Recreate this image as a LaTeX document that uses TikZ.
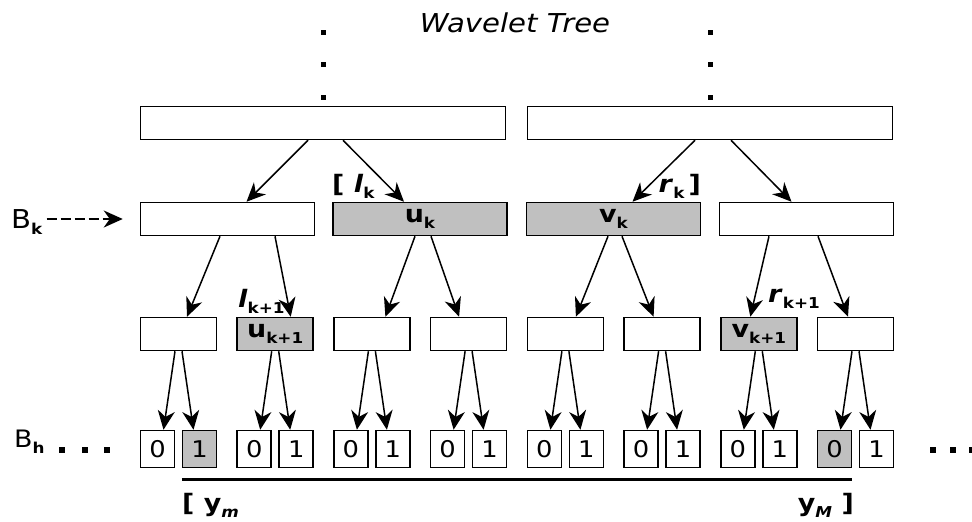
\documentclass[tikz,border=0pt]{standalone}
\usepackage{fontspec}
\setmainfont{DejaVu Sans}[FakeStretch=1.12]
\usetikzlibrary{arrows.meta}
\definecolor{hitgray}{RGB}{192,192,192}
\newcommand{\lsub}[1]{\raisebox{-6pt}{\fontsize{15}{15}\selectfont\bfseries #1}}

\begin{document}
\begin{tikzpicture}[x=1pt, y=-1pt,
  >={Stealth[length=19pt,width=17pt,inset=6pt]},
  box/.style={draw, line width=1.5pt, inner sep=0pt, minimum height=33pt,
    font=\fontsize{24}{24}\selectfont},
  hit/.style={box, fill=hitgray},
  bit/.style={draw, line width=1.5pt, inner sep=0pt, minimum width=34pt,
    minimum height=37pt, font=\fontsize{23}{23}\selectfont},
  lab/.style={inner sep=0pt, font=\fontsize{24}{24}\selectfont\bfseries},
  link/.style={->, line width=1.5pt}]

  \useasboundingbox (0,0) rectangle (972,522);

  % Title and dots above the top level
  \node[anchor=base, inner sep=0pt, font=\fontsize{26}{26}\selectfont\itshape] (title) at (515,32) {Wavelet Tree};
  \fill (320.5,29.5) rectangle (325.5,34.5);
  \fill (320.5,61.5) rectangle (325.5,66.5);
  \fill (320.5,94.5) rectangle (325.5,99.5);
  \fill (707.5,29.5) rectangle (712.5,34.5);
  \fill (707.5,61.5) rectangle (712.5,66.5);
  \fill (707.5,94.5) rectangle (712.5,99.5);

  % Top level
  \node[box, minimum width=365pt] (t1) at (323,123) {};
  \node[box, minimum width=365pt] (t2) at (710,123) {};

  % Level k
  \node[box, minimum width=174pt] (k1) at (227.5,219) {};
  \node[hit, minimum width=174pt] (k2) at (420,219) {\textbf{u}\lsub{k}};
  \node[hit, minimum width=174pt] (k3) at (613.5,219) {\textbf{v}\lsub{k}};
  \node[box, minimum width=174pt] (k4) at (806.5,219) {};

  % Level k+1
  \node[box, minimum width=76pt] (m1) at (178.5,334) {};
  \node[hit, minimum width=76pt] (m2) at (275.2,334) {\textbf{u}\lsub{k+1}};
  \node[box, minimum width=76pt] (m3) at (371.9,334) {};
  \node[box, minimum width=76pt] (m4) at (468.6,334) {};
  \node[box, minimum width=76pt] (m5) at (565.4,334) {};
  \node[box, minimum width=76pt] (m6) at (662.1,334) {};
  \node[hit, minimum width=76pt] (m7) at (758.8,334) {\textbf{v}\lsub{k+1}};
  \node[box, minimum width=76pt] (m8) at (855.5,334) {};

  % Bit level h
  \node[bit] (b1) at (157.5,449) {0};
  \node[bit, fill=hitgray] (b2) at (199.5,449) {1};
  \node[bit] (b3) at (254.2,449) {0};
  \node[bit] (b4) at (296.2,449) {1};
  \node[bit] (b5) at (350.9,449) {0};
  \node[bit] (b6) at (392.9,449) {1};
  \node[bit] (b7) at (447.6,449) {0};
  \node[bit] (b8) at (489.6,449) {1};
  \node[bit] (b9) at (544.4,449) {0};
  \node[bit] (b10) at (586.4,449) {1};
  \node[bit] (b11) at (641.1,449) {0};
  \node[bit] (b12) at (683.1,449) {1};
  \node[bit] (b13) at (737.8,449) {0};
  \node[bit] (b14) at (779.8,449) {1};
  \node[bit, fill=hitgray] (b15) at (834.5,449) {0};
  \node[bit] (b16) at (876.5,449) {1};

  % Arrows top -> level k
  \draw[link] ([xshift=-15pt]t1.south) -- ([xshift=19pt]k1.north);
  \draw[link] ([xshift=20pt]t1.south) -- ([xshift=-16pt]k2.north);
  \draw[link] ([xshift=-15pt]t2.south) -- ([xshift=19pt]k3.north);
  \draw[link] ([xshift=21pt]t2.south) -- ([xshift=-15pt]k4.north);

  % Arrows level k -> level k+1
  \draw[link] ([xshift=-7.5pt]k1.south) -- ([xshift=8.5pt]m1.north);
  \draw[link] ([xshift=47.5pt]k1.south) -- ([xshift=15.5pt]m2.north);
  \draw[link] ([xshift=-5pt]k2.south) -- ([xshift=13.5pt]m3.north);
  \draw[link] ([xshift=11pt]k2.south) -- ([xshift=-9.5pt]m4.north);
  \draw[link] ([xshift=-5.5pt]k3.south) -- ([xshift=10.5pt]m5.north);
  \draw[link] ([xshift=8.5pt]k3.south) -- ([xshift=-8.5pt]m6.north);
  \draw[link] ([xshift=-37.5pt]k4.south) -- ([xshift=-8.5pt]m7.north);
  \draw[link] ([xshift=11.5pt]k4.south) -- ([xshift=-7.5pt]m8.north);

  % Arrows level k+1 -> bits
  \draw[link] ([xshift=-3.5pt]m1.south) -- ([xshift=6pt]b1.north);
  \draw[link] ([xshift=3.5pt]m1.south) -- ([xshift=-6pt]b2.north);
  \draw[link] ([xshift=-3.5pt]m2.south) -- ([xshift=6pt]b3.north);
  \draw[link] ([xshift=3.5pt]m2.south) -- ([xshift=-6pt]b4.north);
  \draw[link] ([xshift=-3.5pt]m3.south) -- ([xshift=6pt]b5.north);
  \draw[link] ([xshift=3.5pt]m3.south) -- ([xshift=-6pt]b6.north);
  \draw[link] ([xshift=-3.5pt]m4.south) -- ([xshift=6pt]b7.north);
  \draw[link] ([xshift=3.5pt]m4.south) -- ([xshift=-6pt]b8.north);
  \draw[link] ([xshift=-3.5pt]m5.south) -- ([xshift=6pt]b9.north);
  \draw[link] ([xshift=3.5pt]m5.south) -- ([xshift=-6pt]b10.north);
  \draw[link] ([xshift=-3.5pt]m6.south) -- ([xshift=6pt]b11.north);
  \draw[link] ([xshift=3.5pt]m6.south) -- ([xshift=-6pt]b12.north);
  \draw[link] ([xshift=-3.5pt]m7.south) -- ([xshift=6pt]b13.north);
  \draw[link] ([xshift=3.5pt]m7.south) -- ([xshift=-6pt]b14.north);
  \draw[link] ([xshift=-3.5pt]m8.south) -- ([xshift=6pt]b15.north);
  \draw[link] ([xshift=3.5pt]m8.south) -- ([xshift=-6pt]b16.north);

  % Range labels
  \node[lab, anchor=base west] (lk) at (332,192) {[ \textit{l}\lsub{k}};
  \node[lab, anchor=base east] (rk) at (701,192) {\textit{r}\lsub{k}\,]};
  \node[lab, anchor=base west] (lk1) at (238,307) {\textit{l}\lsub{k+1}};
  \node[lab, anchor=base west] (rk1) at (768,302) {\textit{r}\lsub{k+1}};

  % Level names
  \node[anchor=base west, inner sep=0pt, font=\fontsize{26}{26}\selectfont] (bk) at (11,228) {B\lsub{k}};
  \draw[link, dashed, dash pattern=on 10pt off 4pt, shorten <=4pt] (bk.east |- k1.west) -- ([xshift=-17pt]k1.west);
  \node[anchor=base west, inner sep=0pt, font=\fontsize{24}{24}\selectfont] (bh) at (14,447) {B\lsub{h}};
  \fill (59,446.5) rectangle (65,452.5);
  \fill (82,446.5) rectangle (88,452.5);
  \fill (104,446.5) rectangle (110,452.5);
  \fill (930,446.5) rectangle (936,452.5);
  \fill (950,446.5) rectangle (956,452.5);
  \fill (969,446.5) rectangle (975,452.5);

  % Query range on the bits
  \draw[line width=3pt] ([yshift=-11pt]b2.south west) -- ([yshift=-11pt]b15.south east);
  \node[lab, anchor=base west] (ym) at (182,511) {[ y\lsub{\itshape m}};
  \node[lab, anchor=base east] (yM) at (854,511) {y\lsub{\itshape M} ]};
\end{tikzpicture}
\end{document}
